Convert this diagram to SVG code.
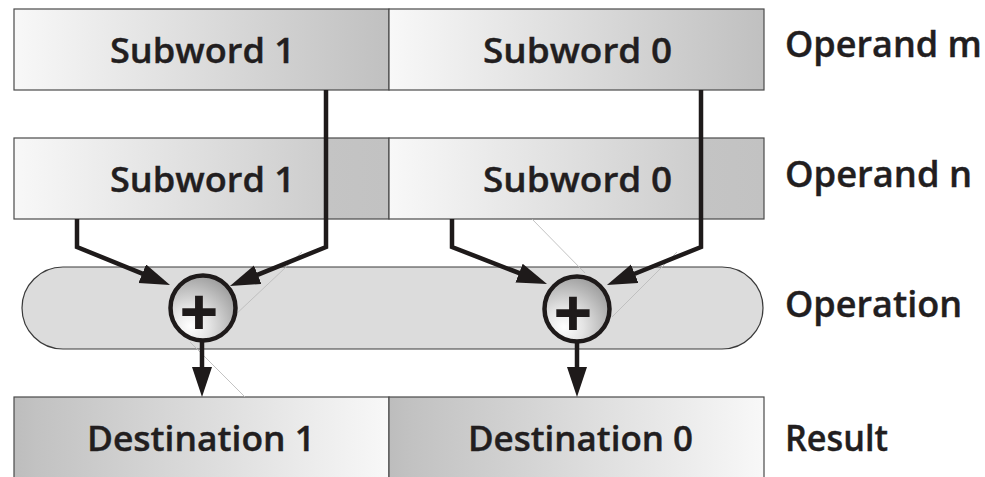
<svg xmlns="http://www.w3.org/2000/svg" width="985" height="477" viewBox="0 0 985 477">
  <defs>
    <linearGradient id="gradOpM" x1="0" y1="0" x2="1" y2="0">
      <stop offset="0" stop-color="#f8f8f8"/>
      <stop offset="1" stop-color="#c0c0c0"/>
    </linearGradient>
    <linearGradient id="gradOpN" x1="0" y1="0" x2="1" y2="0">
      <stop offset="0" stop-color="#f8f8f8"/>
      <stop offset="0.83" stop-color="#cdcdcd"/>
      <stop offset="0.832" stop-color="#c4c4c4"/>
      <stop offset="1" stop-color="#c2c2c2"/>
    </linearGradient>
    <linearGradient id="gradDest" x1="0" y1="0" x2="1" y2="0">
      <stop offset="0" stop-color="#bdbdbd"/>
      <stop offset="0.06" stop-color="#c2c2c2"/>
      <stop offset="1" stop-color="#f8f8f8"/>
    </linearGradient>
    <radialGradient id="gradBall" cx="0.3" cy="0.78" r="0.85" fx="0.3" fy="0.78">
      <stop offset="0" stop-color="#ffffff"/>
      <stop offset="0.35" stop-color="#e4e4e4"/>
      <stop offset="1" stop-color="#9a9a9a"/>
    </radialGradient>
    <marker id="arrow" markerUnits="userSpaceOnUse" markerWidth="32" markerHeight="22" refX="10" refY="10" orient="auto">
      <path d="M0,0 L30,10 L0,20 Z" fill="#1e1a1a"/>
    </marker>
    <style>
      .box { stroke: #4a4a4a; stroke-width: 1.2; }
      .lbl { font-family: "Open Sans", "Noto Sans", "DejaVu Sans", sans-serif; font-weight: 600; fill: #221e1f; stroke: #221e1f; stroke-width: 0.4; }
      .cell { font-size: 35px; }
      .side { font-size: 36px; }
      .wire { fill: none; stroke: #1e1a1a; stroke-width: 4.5; stroke-linejoin: miter; }
      .hair { stroke: #bcbcbc; stroke-width: 0.9; fill: none; }
      .ball { fill: url(#gradBall); stroke: #1e1a1a; stroke-width: 4.5; }
      .plus { font-family: "DejaVu Sans", sans-serif; font-weight: bold; font-size: 50px; fill: #1e1a1a; stroke: #1e1a1a; stroke-width: 2; text-anchor: middle; }
    </style>
  </defs>

  <!-- Operand m -->
  <g id="operand-m">
    <g id="m-subword1">
      <rect class="box" x="14" y="9" width="375" height="81" fill="url(#gradOpM)"/>
      <text class="lbl cell" x="110" y="63" textLength="185" lengthAdjust="spacingAndGlyphs">Subword 1</text>
    </g>
    <g id="m-subword0">
      <rect class="box" x="389" y="9" width="375" height="81" fill="url(#gradOpM)"/>
      <text class="lbl cell" x="483" y="63" textLength="189" lengthAdjust="spacingAndGlyphs">Subword 0</text>
    </g>
  </g>

  <!-- Operand n -->
  <g id="operand-n">
    <g id="n-subword1">
      <rect class="box" x="14" y="138" width="375" height="81" fill="url(#gradOpN)"/>
      <text class="lbl cell" x="110" y="192" textLength="185" lengthAdjust="spacingAndGlyphs">Subword 1</text>
    </g>
    <g id="n-subword0">
      <rect class="box" x="389" y="138" width="375" height="81" fill="url(#gradOpN)"/>
      <text class="lbl cell" x="483" y="192" textLength="189" lengthAdjust="spacingAndGlyphs">Subword 0</text>
    </g>
  </g>

  <!-- Operation band -->
  <g id="operation">
    <rect x="22" y="267" width="741" height="82" rx="41" ry="41" fill="#dcdcdc" stroke="#3a3a3a" stroke-width="1.2"/>
  </g>

  <!-- Result -->
  <g id="result">
    <g id="destination1">
      <rect class="box" x="14" y="397" width="375" height="90" fill="url(#gradDest)"/>
      <text class="lbl cell" x="87" y="451" textLength="228" lengthAdjust="spacingAndGlyphs">Destination 1</text>
    </g>
    <g id="destination0">
      <rect class="box" x="389" y="397" width="375" height="90" fill="url(#gradDest)"/>
      <text class="lbl cell" x="468" y="451" textLength="225" lengthAdjust="spacingAndGlyphs">Destination 0</text>
    </g>
  </g>

  <!-- Row captions -->
  <g id="captions">
    <text class="lbl side" x="785" y="57" textLength="197" lengthAdjust="spacingAndGlyphs">Operand m</text>
    <text class="lbl side" x="785" y="187" textLength="187" lengthAdjust="spacingAndGlyphs">Operand n</text>
    <text class="lbl side" x="785" y="317" textLength="177" lengthAdjust="spacingAndGlyphs">Operation</text>
    <text class="lbl side" x="785" y="451" textLength="103" lengthAdjust="spacingAndGlyphs">Result</text>
  </g>

  <!-- Construction hairlines -->
  <g id="hairlines">
    <line class="hair" x1="302" y1="252" x2="233" y2="317"/>
    <line class="hair" x1="190" y1="342" x2="245" y2="397"/>
    <line class="hair" x1="532" y1="219" x2="585" y2="273"/>
    <line class="hair" x1="677" y1="252" x2="612" y2="317"/>
  </g>

  <!-- Connectors -->
  <g id="connectors">
    <polyline class="wire" points="77,219 77,247 151.5,277.4" marker-end="url(#arrow)"/>
    <polyline class="wire" points="326,90 326,247 248.5,278.5" marker-end="url(#arrow)"/>
    <polyline class="wire" points="452,219 452,247 528.4,276.7" marker-end="url(#arrow)"/>
    <polyline class="wire" points="701,90 701,247 625.5,277.5" marker-end="url(#arrow)"/>
    <line class="wire" x1="202" y1="342" x2="202" y2="377" marker-end="url(#arrow)"/>
    <line class="wire" x1="577" y1="342" x2="577" y2="377" marker-end="url(#arrow)"/>
  </g>

  <!-- Adders -->
  <g id="adder1">
    <circle class="ball" cx="203" cy="308" r="32.5"/>
    <text class="plus" x="199" y="328">+</text>
  </g>
  <g id="adder0">
    <circle class="ball" cx="577" cy="309" r="32.5"/>
    <text class="plus" x="573" y="329">+</text>
  </g>
</svg>
